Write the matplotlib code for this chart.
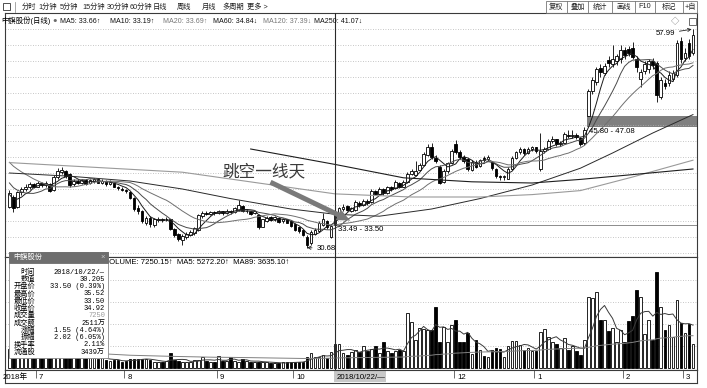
import numpy as np
import pandas as pd
import matplotlib
matplotlib.use("Agg")
import matplotlib.pyplot as plt
from matplotlib.patches import Rectangle
from matplotlib.lines import Line2D

plt.rcParams['font.family'] = ['Liberation Sans', 'Noto Sans CJK SC', 'DejaVu Sans']

# ---- daily bars, end of June 2018 .. early March 2019 ----
opens = [
    35.8, 37.0, 35.8, 37.6, 38.0, 38.2, 38.6, 38.3, 38.7, 38.5,
    38.6, 37.9, 39.5, 40.1, 40.2, 39.9, 38.6, 39.0, 38.8, 39.1,
    38.7, 39.0, 39.2, 38.8, 39.0, 38.6, 38.8, 38.2, 38.0, 37.9,
    37.6, 36.9, 35.6, 35.3, 33.8, 34.4, 33.5, 34.1, 34.2, 34.2,
    34.2, 33.0, 32.4, 31.6, 32.0, 32.3, 32.5, 32.9, 34.6, 35.0,
    34.9, 35.1, 35.0, 35.2, 35.0, 35.2, 35.1, 35.4, 35.9, 35.2,
    35.2, 35.0, 34.8, 33.3, 34.0, 34.5, 34.2, 34.4, 34.0, 34.2,
    34.0, 33.6, 33.2, 32.9, 32.0, 31.2, 32.4, 32.8, 33.5, 34.0,
    32.0, 33.50, 34.9, 35.5, 35.9, 35.3, 35.4, 36.3, 36.0, 36.5,
    36.4, 37.7, 37.4, 38.0, 37.5, 38.2, 38.1, 38.8, 38.3, 38.9,
    39.9, 39.8, 40.4, 41.0, 42.3, 43.2, 41.9, 40.8, 38.9, 40.2,
    41.2, 43.6, 42.6, 42.0, 41.8, 40.4, 41.4, 40.9, 41.9, 41.7,
    41.4, 40.5, 39.6, 39.5, 39.3, 40.5, 41.9, 42.6, 43.0, 42.5,
    43.0, 43.2, 40.5, 42.8, 43.0, 44.0, 44.2, 43.6, 43.8, 44.8,
    44.6, 44.8, 44.4, 43.7, 47.1, 50.2, 51.4, 53.1, 52.5, 54.1,
    53.6, 54.0, 54.2, 55.4, 55.5, 55.6, 54.3, 51.8, 52.8, 53.0,
    54.0, 53.8, 49.5, 51.2, 51.2, 51.8, 52.3, 56.5, 54.4, 56.3, 55.0,
]
closes = [
    37.5, 35.6, 37.6, 38.0, 38.3, 38.6, 38.3, 38.8, 38.5, 38.8,
    37.8, 39.5, 40.2, 40.4, 39.6, 38.5, 39.0, 38.8, 39.1, 38.6,
    39.1, 39.2, 38.8, 39.0, 38.6, 38.9, 38.3, 38.1, 37.9, 37.7,
    36.9, 35.5, 35.2, 34.0, 34.4, 33.6, 34.2, 34.3, 34.1, 34.3,
    33.0, 32.2, 31.7, 32.1, 32.4, 32.6, 33.1, 34.7, 35.0, 34.9,
    35.1, 35.0, 35.2, 35.0, 35.3, 35.1, 35.6, 36.0, 35.2, 35.3,
    34.9, 35.2, 33.2, 34.2, 34.4, 34.1, 34.5, 33.9, 34.3, 33.8,
    33.4, 32.9, 32.7, 32.3, 31.0, 32.6, 32.9, 33.8, 34.2, 33.2,
    33.37, 34.92, 35.6, 35.8, 35.4, 35.6, 36.4, 36.0, 36.5, 36.2,
    37.8, 37.4, 38.0, 37.5, 38.2, 38.0, 38.9, 38.3, 38.9, 39.9,
    40.2, 40.3, 41.0, 42.4, 43.3, 42.0, 41.5, 38.8, 40.3, 41.2,
    42.8, 42.6, 42.0, 41.5, 40.5, 41.4, 40.8, 41.6, 41.6, 42.0,
    40.6, 39.6, 39.5, 39.6, 40.5, 41.9, 42.6, 43.0, 42.5, 43.0,
    43.2, 42.7, 42.8, 43.0, 44.0, 44.3, 43.6, 43.8, 44.9, 44.6,
    44.8, 44.5, 43.6, 45.4, 50.2, 51.6, 53.0, 52.6, 53.4, 53.7,
    54.2, 54.6, 55.4, 54.7, 55.0, 54.5, 53.2, 52.6, 53.6, 54.0,
    53.5, 49.8, 51.6, 50.9, 52.3, 52.5, 56.3, 54.2, 55.0, 54.6, 57.2,
]
highs = [
    37.9, 37.3, 37.8, 38.3, 38.6, 38.9, 38.8, 39.0, 38.9, 39.0,
    38.7, 39.7, 40.6, 40.7, 40.4, 40.0, 39.2, 39.2, 39.3, 39.2,
    39.3, 39.4, 39.3, 39.2, 39.1, 39.1, 38.9, 38.4, 38.2, 38.0,
    37.7, 37.0, 36.0, 35.4, 34.6, 34.6, 34.4, 34.5, 34.4, 34.5,
    34.3, 33.1, 32.5, 32.4, 32.6, 32.9, 33.3, 34.9, 35.3, 35.2,
    35.3, 35.2, 35.4, 35.3, 35.5, 35.4, 35.8, 36.6, 36.0, 35.5,
    35.3, 35.3, 34.9, 34.3, 34.6, 34.6, 34.6, 34.5, 34.4, 34.3,
    34.1, 33.7, 33.3, 33.0, 32.2, 32.9, 33.1, 34.0, 35.0, 34.1,
    33.49, 35.52, 35.8, 36.1, 36.0, 35.8, 36.6, 36.5, 36.8, 36.7,
    38.0, 37.9, 38.2, 38.1, 38.4, 38.4, 39.1, 38.9, 39.1, 40.1,
    40.5, 41.5, 41.3, 42.6, 43.6, 43.7, 42.2, 41.0, 40.5, 41.4,
    43.0, 44.1, 42.9, 42.3, 41.9, 41.6, 41.6, 41.8, 42.1, 42.2,
    41.5, 40.6, 39.8, 39.8, 40.7, 42.1, 42.8, 43.2, 43.1, 43.2,
    43.4, 43.3, 45.0, 43.3, 44.2, 44.6, 44.3, 44.0, 45.1, 45.4,
    45.4, 45.0, 44.5, 45.80, 50.5, 52.0, 53.3, 53.6, 53.8, 54.6,
    56.0, 54.9, 56.0, 55.8, 55.9, 56.4, 54.6, 53.0, 54.0, 54.3,
    54.4, 54.0, 52.0, 51.8, 52.7, 52.9, 56.6, 57.0, 55.6, 56.8, 57.99,
]
lows = [
    35.6, 35.1, 35.6, 37.3, 37.8, 38.0, 38.1, 38.2, 38.3, 38.3,
    37.6, 37.8, 39.3, 39.9, 39.4, 38.3, 38.4, 38.6, 38.6, 38.5,
    38.6, 38.8, 38.7, 38.6, 38.4, 38.5, 38.2, 37.9, 37.8, 37.5,
    36.7, 35.3, 34.9, 33.8, 33.5, 33.3, 33.3, 33.9, 33.9, 34.0,
    32.9, 32.0, 31.5, 31.0, 31.8, 32.1, 32.3, 32.8, 34.4, 34.7,
    34.7, 34.8, 34.9, 34.8, 34.9, 34.9, 35.0, 35.3, 35.1, 35.0,
    34.8, 34.9, 33.0, 33.2, 33.9, 34.0, 34.0, 33.8, 33.8, 33.7,
    33.3, 32.8, 32.5, 32.1, 30.68, 31.0, 32.2, 32.6, 33.4, 33.0,
    31.9, 33.50, 34.7, 35.3, 35.2, 35.1, 35.3, 35.8, 35.9, 36.0,
    36.3, 37.2, 37.3, 37.3, 37.4, 37.8, 38.0, 38.1, 38.2, 38.8,
    39.7, 39.6, 40.2, 40.9, 42.1, 41.8, 41.2, 38.6, 38.7, 40.0,
    41.1, 42.4, 41.8, 41.3, 40.3, 40.2, 40.6, 40.7, 41.4, 41.5,
    40.4, 39.4, 39.1, 39.1, 39.2, 40.4, 41.7, 42.4, 42.3, 42.4,
    42.8, 42.5, 40.3, 42.5, 42.9, 43.8, 43.4, 43.4, 43.7, 44.4,
    44.4, 44.3, 43.4, 43.5, 47.08, 49.9, 51.0, 52.0, 52.2, 53.3,
    53.2, 53.5, 53.8, 54.3, 54.6, 54.2, 52.6, 50.8, 52.4, 52.5,
    53.0, 48.9, 49.2, 50.5, 50.9, 51.5, 52.0, 53.8, 54.0, 54.2, 54.8,
]
volumes = [
    5700, 4800, 4500, 4200, 4800, 5100, 3900, 3600, 4200, 3600,
    4500, 6000, 6600, 5400, 4800, 5100, 3900, 3300, 3600, 3000,
    3300, 3000, 2700, 3300, 2400,
    2100, 2400, 2400, 1700, 2100, 2700, 2700, 2700, 2700, 2700,
    2400, 1900, 1700, 1700, 2100, 4400, 2400, 2100, 1900, 1700,
    1900, 2400, 2400, 3400, 2100, 1900, 1900, 3600, 2100, 2100,
    3400, 2100, 1900, 2700, 2100, 1700, 1900, 1900, 1900, 1700,
    1400, 1400, 1400, 1700, 1700, 1900, 1700, 1700, 1900, 3400,
    4400, 3400, 3400, 3900, 2900, 4900,
    7250, 7100, 4500, 3900, 4900, 5300, 4900, 6500, 5000, 5800,
    6500, 4500, 7900, 5200, 4600, 5000,
    5500, 5000, 16400, 13800, 8500, 11900, 11800, 11500, 11500, 18400,
    7900, 12400, 7700, 12900, 14400, 7900, 7900, 10400, 4100, 8500,
    5500, 3600, 3300, 5500, 6000, 5800, 3300, 6700, 8100, 8100,
    6900, 5500, 6000, 5000, 5000, 10900, 11800, 9400, 7700, 7100,
    6100, 8900, 5500, 6500, 5000, 3900, 8500, 21400, 20900, 22700,
    14400, 14400, 11100, 11900, 7700, 11500, 7700, 14000, 15700, 23400,
    21400, 10100, 14400, 8500, 28900, 18400, 11500, 12800, 9400, 20300,
    13400, 10400, 13100, 7100,
]
# closes before the visible window (only feed the short moving averages)
pre_closes = [45.5, 45.0, 44.8, 44.2, 44.5, 43.9, 43.6, 43.0, 42.6, 42.1,
              41.5, 40.8, 40.2, 39.6, 39.0, 38.4, 37.6, 36.8, 36.2]

# long moving averages (bar index, value)
ma60_x = [0, 15, 30, 43, 55, 70, 81, 92, 105, 117, 130, 142, 150, 160, 170]
ma60_v = [40.0, 39.6, 39.0, 38.0, 36.8, 35.5, 34.84, 34.6, 35.5, 36.8, 38.5, 40.6, 42.5, 45.0, 47.3]
ma120_x = [0, 43, 81, 100, 117, 130, 142, 155, 170]
ma120_v = [41.3, 40.1, 37.39, 37.0, 37.0, 37.3, 37.8, 39.5, 41.6]
ma250_x = [60, 81, 98, 115, 130, 142, 155, 170]
ma250_v = [43.0, 41.07, 39.4, 38.9, 38.75, 39.2, 39.8, 40.5]

month_pos = [7, 29, 52, 71, 111, 131, 153, 168]
month_lbl = ['7', '8', '9', '10', '12', '1', '2', '3']
cross_day = 81
cross_date = '2018/10/22/—'
gap1 = (33.49, 33.50)
gap2 = (45.80, 47.08)
gap2_day = 144
low_day, high_day = 74, 170

tool_left = ['分时', '1分钟', '5分钟', '15分钟', '30分钟', '60分钟', '日线', '周线', '月线', '多周期', '更多 >']
tool_right = ['复权', '叠加', '统计', '画线', 'F10', '标记', '+自']
ma_legend = ['MA5: 33.66↑', 'MA10: 33.19↑', 'MA20: 33.69↑', 'MA60: 34.84↓', 'MA120: 37.39↓', 'MA250: 41.07↓']
info_labels = ['时间', '数值', '开盘价', '最高价', '最低价', '收盘价', '成交量', '成交额', '涨幅', '振幅', '换手率', '流通股']
info_values = ['2018/10/22/—', '30.205', '33.50 (0.39%)', '35.52', '33.50', '34.92', '7250',
               '2511万', '1.55 (4.64%)', '2.02 (6.05%)', '2.11%', '3439万']
vol_legend = 'VOLUME: 7250.15↑  MA5: 5272.20↑  MA89: 3635.10↑'

assert len(opens) == len(closes) == len(highs) == len(lows) == len(volumes)

# ---- derived ----
n = len(closes)
idx = np.arange(n)
o, c, h, l = map(np.array, (opens, closes, highs, lows))
v = np.array(volumes, dtype=float)
up = c >= o
call = pd.Series(pre_closes + closes)
ma = {w: call.rolling(w, min_periods=1).mean().values[len(pre_closes):] for w in (5, 10, 20)}
vs = pd.Series(v)
vma5 = vs.rolling(5, min_periods=1).mean().values
vma89 = vs.rolling(89, min_periods=1).mean().values

# ---- figure ----
W, H = 707, 388
fig = plt.figure(figsize=(W / 100, H / 100), dpi=100)


def fx(px):
    return px / W


def fy(py):
    return 1 - py / H


L, R = 5, 697
ax = fig.add_axes([fx(L), fy(257), fx(R) - fx(L), fy(13) - fy(257)])
axv = fig.add_axes([fx(L), fy(370), fx(R) - fx(L), fy(257) - fy(370)])
axd = fig.add_axes([fx(L), fy(383), fx(R) - fx(L), fy(370) - fy(383)])

xlim = (-1.1, 171.0)
for a in (ax, axv, axd):
    a.set_xlim(*xlim)
    a.tick_params(length=0, labelleft=False, labelbottom=False)
    a.set_xticks([])
    for s in a.spines.values():
        s.set_color('#3a3a3a')
        s.set_linewidth(0.8)

ax.set_ylim(29.5, 60)
ax.set_yticks(np.arange(30, 60, 2))
ax.grid(axis='y', color='#b4b4b4', lw=0.6, ls=(0, (1, 2)))
axv.set_ylim(-600, 33300)
axv.set_yticks([6600, 13200, 19800, 26400])
axv.grid(axis='y', color='#b4b4b4', lw=0.6, ls=(0, (1, 2)))
axd.set_ylim(0, 1)
axd.set_yticks([])

# candles
bw = 0.66
ax.vlines(idx, l, h, color='black', lw=0.6, zorder=2)
ax.bar(idx[up], np.maximum(c - o, 0.02)[up], bottom=o[up], width=bw,
       facecolor='white', edgecolor='black', lw=0.6, zorder=3)
ax.bar(idx[~up], (o - c)[~up], bottom=c[~up], width=bw,
       facecolor='black', edgecolor='black', lw=0.6, zorder=3)

# gap marks
ax.fill_between([gap2_day - 0.4, n + 0.5], gap2[0], gap2[1], color='#808080', lw=0, zorder=1.5)
ax.hlines(gap1[1], cross_day, n + 0.5, color='#8c8c8c', lw=0.7, zorder=1.5)

# moving averages
ax.plot(idx, ma[5], color='#1a1a1a', lw=0.7, zorder=4)
ax.plot(idx, ma[10], color='#4a4a4a', lw=0.7, zorder=4)
ax.plot(idx, ma[20], color='#707070', lw=0.7, zorder=4)
ax.plot(ma60_x, ma60_v, color='#2a2a2a', lw=0.7, zorder=4)
ax.plot(ma120_x, ma120_v, color='#9a9a9a', lw=0.8, zorder=4)
ax.plot(ma250_x, ma250_v, color='#1e1e1e', lw=0.8, zorder=4)

# crosshair
ax.axvline(cross_day, color='#2a2a2a', lw=0.8, zorder=5)
axv.axvline(cross_day, color='#2a2a2a', lw=0.8, zorder=5)

# labels in the price panel
fs = 5.6
ax.text(cross_day + 0.6, gap1[0] - 0.08, f'{gap1[0]:.2f} - {gap1[1]:.2f}', fontsize=fs, va='top', ha='left', zorder=6)
ax.text(gap2_day + 0.1, gap2[0] - 0.2, f'{gap2[0]:.2f} - {gap2[1]:.2f}', fontsize=fs, va='top', ha='left', zorder=6)
ax.annotate(f'{highs[high_day]:.2f}', xy=(high_day, highs[high_day]), xytext=(high_day - 4.4, 57.45),
            fontsize=fs, ha='right', va='center', zorder=6,
            arrowprops=dict(arrowstyle='->', lw=0.6, color='#222222', shrinkA=1, shrinkB=1))
ax.annotate(f'{lows[low_day]:.2f}', xy=(low_day, lows[low_day]), xytext=(low_day + 2.3, 30.55),
            fontsize=fs, ha='left', va='center', zorder=6,
            arrowprops=dict(arrowstyle='->', lw=0.6, color='#222222', shrinkA=1, shrinkB=0))
ax.text(63.2, 40.15, '跳空一线天', fontsize=12, ha='center', va='center', color='#3a3a3a',
        family=['Noto Sans CJK SC'], fontweight='light', zorder=6)
ax.annotate('', xy=(85.4, 33.9), xytext=(64.3, 39.0), zorder=6,
            arrowprops=dict(arrowstyle='simple,head_length=0.8,head_width=0.7,tail_width=0.3',
                            mutation_scale=12, color='#7a7a7a', lw=0))

# volume panel
axv.bar(idx[up], v[up], width=bw, facecolor='white', edgecolor='black', lw=0.6, zorder=3)
axv.bar(idx[~up], v[~up], width=bw, facecolor='black', edgecolor='black', lw=0.6, zorder=3)
axv.plot(idx, vma5, color='#3a3a3a', lw=0.7, zorder=4)
axv.plot(idx, vma89, color='#808080', lw=0.7, zorder=4)
fig.text(fx(104), fy(263), vol_legend, fontsize=5.6, va='center', ha='left')

# date strip
for p, lab in zip(month_pos, month_lbl):
    axd.vlines(p - 0.5, 0.35, 1.0, color='#555555', lw=0.6)
    axd.text(p + 0.3, 0.45, lab, fontsize=5.6, va='center', ha='left')
axd.text(-1.8, 0.45, '2018年', fontsize=5.6, va='center', ha='left')
axd.add_patch(Rectangle((cross_day - 0.2, 0.06), 12.8, 0.88, facecolor='#c8c8c8', edgecolor='none'))
axd.text(cross_day + 0.3, 0.45, cross_date, fontsize=5.6, va='center', ha='left')

# toolbar
fig.add_artist(Rectangle((fx(3), fy(10)), fx(7), fy(3) - fy(10), transform=fig.transFigure,
                         fill=False, ec='#333333', lw=0.6))
fig.add_artist(Line2D([fx(15), fx(15)], [fy(2), fy(12)], transform=fig.transFigure, color='#999999', lw=0.6))
for t, px in zip(tool_left, [22, 38, 60, 82, 107, 130, 153, 177, 202, 222, 247]):
    fig.text(fx(px), fy(7), t, fontsize=5.2, va='center', ha='left', color='#222222')
seps = [546, 567, 588, 612, 635, 655, 683, 697]
fig.add_artist(Rectangle((fx(seps[0]), fy(13)), fx(seps[-1] - seps[0]), fy(1) - fy(13),
                         transform=fig.transFigure, fill=False, ec='#777777', lw=0.6))
for s in seps[1:-1]:
    fig.add_artist(Line2D([fx(s), fx(s)], [fy(1), fy(13)], transform=fig.transFigure, color='#777777', lw=0.6))
for t, a, b in zip(tool_right, seps[:-1], seps[1:]):
    fig.text(fx((a + b) / 2), fy(7), t, fontsize=5.2, va='center', ha='center', color='#222222')

# MA legend row
fig.text(fx(1), fy(21), '中旗股份(日线)', fontsize=5.3, va='center', ha='left')
fig.text(fx(52), fy(21), '●', fontsize=5.4, va='center', ha='left', color='#6a6a6a')
legend_colors = ['#111111', '#111111', '#777777', '#111111', '#777777', '#111111']
for t, px, col in zip(ma_legend, [60, 110, 163, 213, 263, 314], legend_colors):
    fig.text(fx(px), fy(21), t, fontsize=5.1, va='center', ha='left', color=col)
fig.text(fx(675), fy(22), '◇', fontsize=6, va='center', ha='center', color='#777777')
fig.add_artist(Rectangle((fx(689), fy(25)), fx(7), fy(18) - fy(25), transform=fig.transFigure,
                         fill=False, ec='#555555', lw=0.6))

# info box
fig.add_artist(Rectangle((fx(9), fy(358)), fx(99), fy(252) - fy(358), transform=fig.transFigure,
                         facecolor='white', ec='#8a8a8a', lw=0.6, zorder=5))
fig.add_artist(Rectangle((fx(9), fy(263)), fx(99), fy(252) - fy(263), transform=fig.transFigure,
                         facecolor='#6e6e6e', ec='#6e6e6e', lw=0.6, zorder=5.1))
fig.text(fx(13), fy(257.5), '中旗股份', fontsize=5.2, va='center', ha='left', color='white', zorder=6)
fig.text(fx(103), fy(257.5), '×', fontsize=5.5, va='center', ha='center', color='#c8c8c8', zorder=6)
for k, (lab, val) in enumerate(zip(info_labels, info_values)):
    yy = 272 + k * 7.3
    fig.text(fx(35), fy(yy), lab, fontsize=5.2, va='center', ha='right', zorder=6)
    fig.text(fx(105), fy(yy), val, fontsize=5.0, va='center', ha='right', zorder=6,
             family=['Liberation Mono', 'Noto Sans CJK SC'],
             color='#999999' if lab == '成交量' else 'black')

fig.savefig('out.png', dpi=100)
